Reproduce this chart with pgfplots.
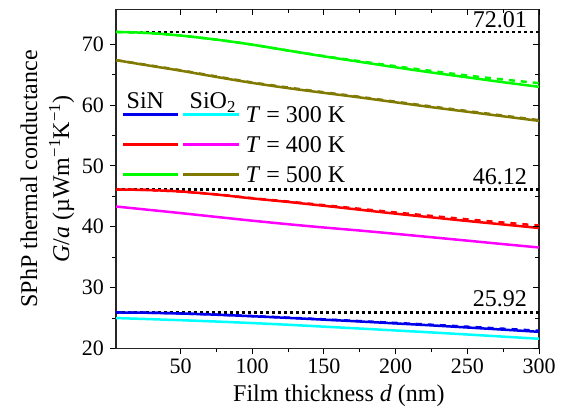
\documentclass[border=0pt]{standalone}
\usepackage{fontspec}
\setmainfont{Liberation Serif}
\usepackage{pgfplots}
\pgfplotsset{compat=1.18}
\definecolor{cBlue}{RGB}{0,0,235}
\definecolor{cCyan}{RGB}{0,255,255}
\definecolor{cRed}{RGB}{255,0,0}
\definecolor{cMag}{RGB}{255,0,255}
\definecolor{cGreen}{RGB}{0,250,0}
\definecolor{cOlive}{RGB}{128,122,0}
\newcommand{\lblfont}{\fontsize{24}{32}\selectfont}
\newcommand{\tckfont}{\fontsize{22}{26}\selectfont}
\begin{document}
\begin{tikzpicture}
\path[use as bounding box] (-116pt,-62.5pt) rectangle (454pt,348.5pt);
\begin{axis}[
 scale only axis, width=423pt, height=339pt,
 xmin=5, xmax=300, ymin=20, ymax=75.7,
 xtick={50,100,...,300}, ytick={20,30,...,70},
 minor x tick num=1, minor y tick num=1,
 tick pos=left, tick align=outside,
 major tick length=6pt, minor tick length=4pt,
 every tick/.style={black, line width=1pt},
 axis line style={black!85, line width=1.3pt},
 /pgf/number format/assume math mode=true,
 xticklabel={\pgfmathprintnumber[assume math mode=true]{\tick}},
 yticklabel={\pgfmathprintnumber[assume math mode=true]{\tick}},
 ticklabel style={font=\tckfont, inner sep=0pt},
 xticklabel style={anchor=north, yshift=-4pt},
 yticklabel style={anchor=east, xshift=-6pt},
 xlabel={Film thickness \textit{d} (nm)},
 x label style={at={(axis description cs:0.527,-0.155)}, anchor=base, font=\lblfont, inner sep=0pt},
 ylabel={SPhP thermal conductance\\\textit{G}/\textit{a} (µWm\textsuperscript{−1}K\textsuperscript{−1})},
 y label style={at={(axis description cs:-0.162,0.5)}, anchor=center, align=center, font=\lblfont, inner sep=0pt},
 legend style={at={(axis description cs:0.0142,0.7558)}, anchor=north west, draw=none, fill=none,
   inner sep=0pt, row sep=0pt, column sep=5pt,
   nodes={inner sep=0pt, text height=23pt, text depth=7pt, font=\lblfont}},
 legend cell align=left,
]
% reference lines
\addplot[forget plot, black, line width=2.5pt, dash pattern=on 3pt off 3pt] coordinates {(5,72.01) (300,72.01)};
\addplot[forget plot, black, line width=2.5pt, dash pattern=on 3pt off 3pt] coordinates {(5,46.12) (300,46.12)};
\addplot[forget plot, black, line width=2.5pt, dash pattern=on 3pt off 3pt] coordinates {(5,25.92) (300,25.92)};
% T = 300 K
\addplot[forget plot, cCyan, line width=2.5pt, smooth] table {
5 25.0
25 24.85
50 24.65
75 24.43
100 24.18
125 23.9
150 23.59
175 23.28
200 22.96
225 22.64
250 22.3
275 21.95
300 21.6
};
\addplot[forget plot, cBlue, line width=2.5pt, smooth] table {
5 25.92
25 25.88
50 25.75
75 25.55
100 25.3
125 25.03
150 24.74
175 24.44
200 24.12
225 23.8
250 23.45
275 23.1
300 22.74
};
\addplot[forget plot, cBlue, line width=2.5pt, smooth, dash pattern=on 6pt off 6pt] table {
5 25.92
25 25.88
50 25.76
75 25.57
100 25.33
125 25.07
150 24.79
175 24.5
200 24.2
225 23.9
250 23.58
275 23.25
300 22.92
};
% T = 400 K
\addplot[forget plot, cMag, line width=2.5pt, smooth] table {
5 43.33
25 42.85
50 42.25
75 41.62
100 41.0
125 40.42
150 39.88
175 39.38
200 38.84
225 38.28
250 37.72
275 37.15
300 36.6
};
\addplot[forget plot, cRed, line width=2.5pt, smooth] table {
5 46.12
25 46.05
50 45.8
75 45.3
100 44.66
125 44.08
150 43.45
175 42.8
200 42.15
225 41.55
250 40.95
275 40.38
300 39.8
};
\addplot[forget plot, cRed, line width=2.5pt, smooth, dash pattern=on 6pt off 6pt] table {
5 46.12
25 46.05
50 45.8
75 45.32
100 44.7
125 44.14
150 43.55
175 42.95
200 42.35
225 41.78
250 41.22
275 40.7
300 40.2
};
% T = 500 K
\addplot[forget plot, cOlive, line width=2.5pt, smooth] table {
5 67.38
25 66.6
50 65.65
75 64.62
100 63.64
125 62.78
150 62.0
175 61.25
200 60.45
225 59.65
250 58.9
275 58.15
300 57.4
};
\addplot[forget plot, cOlive, line width=2.5pt, smooth, dash pattern=on 6pt off 6pt] table {
5 67.38
25 66.65
50 65.72
75 64.7
100 63.72
125 62.88
150 62.1
175 61.35
200 60.55
225 59.77
250 59.02
275 58.27
300 57.52
};
\addplot[forget plot, cGreen, line width=2.5pt, smooth] table {
5 72.01
20 71.92
35 71.72
50 71.42
65 71.03
80 70.6
100 69.92
125 68.95
150 68.0
175 67.1
200 66.2
225 65.35
250 64.55
275 63.75
300 63.0
};
\addplot[forget plot, cGreen, line width=2.5pt, smooth, dash pattern=on 6pt off 6pt] table {
5 72.01
20 71.92
35 71.72
50 71.42
65 71.03
80 70.6
100 69.93
125 68.97
150 68.04
175 67.2
200 66.38
225 65.6
250 64.85
275 64.2
300 63.6
};
% annotations
\node[anchor=base east, font=\lblfont, inner sep=0pt, yshift=4pt] at (axis cs:291.6,72.01) {72.01};
\node[anchor=base east, font=\lblfont, inner sep=0pt, yshift=5.5pt] at (axis cs:291.6,46.12) {46.12};
\node[anchor=base east, font=\lblfont, inner sep=0pt, yshift=6pt] at (axis cs:291.6,25.92) {25.92};
% legend
\addlegendimage{legend image code/.code={
  \draw[cBlue, line width=2.5pt] (0pt,0pt) -- (55pt,0pt);
  \draw[cCyan, line width=2.5pt] (60pt,0pt) -- (116pt,0pt);
  \node[anchor=base west, inner sep=0pt, text height=16pt, text depth=0pt, font=\lblfont] at (3pt,6pt) {SiN};
  \node[anchor=base west, inner sep=0pt, text height=16pt, text depth=0pt, font=\lblfont] at (66pt,6pt) {SiO\textsubscript{2}};
}}
\addlegendentry{\textit{T} = 300 K}
\addlegendimage{legend image code/.code={
  \draw[cRed, line width=2.5pt] (0pt,0pt) -- (55pt,0pt);
  \draw[cMag, line width=2.5pt] (60pt,0pt) -- (116pt,0pt);
}}
\addlegendentry{\textit{T} = 400 K}
\addlegendimage{legend image code/.code={
  \draw[cGreen, line width=2.5pt] (0pt,0pt) -- (55pt,0pt);
  \draw[cOlive, line width=2.5pt] (60pt,0pt) -- (116pt,0pt);
}}
\addlegendentry{\textit{T} = 500 K}
\end{axis}
\begin{axis}[
 scale only axis, width=423pt, height=339pt,
 xmin=5, xmax=300, ymin=20, ymax=75.7,
 xtick={50,100,...,300}, ytick={20,30,...,70},
 minor x tick num=1, minor y tick num=1,
 tick pos=right, tick align=inside,
 major tick length=6pt, minor tick length=4pt,
 every tick/.style={black, line width=1pt},
 axis line style={draw=none},
 xticklabels={}, yticklabels={},
]
\end{axis}
\end{tikzpicture}
\end{document}
